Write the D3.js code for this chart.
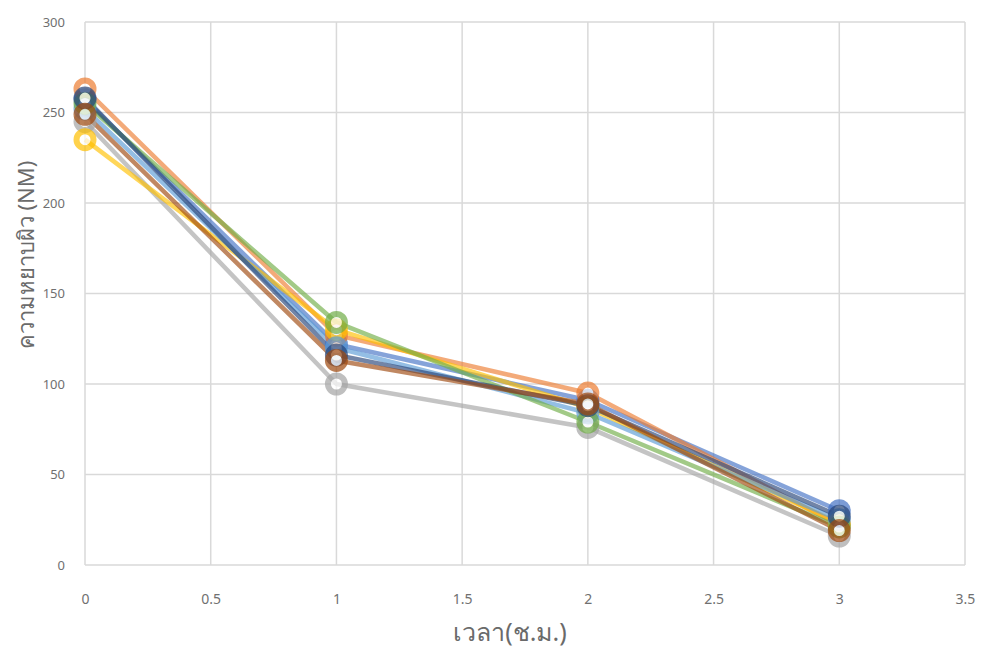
<!DOCTYPE html>
<html>
<head>
<meta charset="utf-8">
<script src="https://cdn.jsdelivr.net/npm/d3@7"></script>
<style>
  html, body { margin: 0; padding: 0; background: #fff; }
  svg { display: block; font-family: "Noto Sans", "DejaVu Sans", sans-serif; }
</style>
</head>
<body>
<svg id="chart" width="981" height="652"></svg>
<script>
// Time in hours
const hours = [0, 1, 2, 3];

// Surface roughness (nm) for each sample
const s1 = [257, 122, 91, 30];
const s2 = [263, 127, 95, 22];
const s3 = [245, 100, 76, 16];
const s4 = [235, 130, 87, 23];
const s5 = [252, 120, 84, 25];
const s6 = [255, 134, 79, 21];
const s7 = [258, 116, 88, 27];
const s8 = [249, 113, 89, 19];
const seriesValues = [s1, s2, s3, s4, s5, s6, s7, s8];

const colors = ["#4472C4", "#ED7D31", "#A5A5A5", "#FFC000", "#5B9BD5", "#70AD47", "#264478", "#9E480E"];

const xTicks = [0, 0.5, 1, 1.5, 2, 2.5, 3, 3.5];
const yTicks = [0, 50, 100, 150, 200, 250, 300];

const margin = { left: 85, right: 16, top: 22, bottom: 87 };
const W = 981, H = 652;
const svg = d3.select("#chart");

const x = d3.scaleLinear().domain([0, 3.5]).range([margin.left, W - margin.right]);
const y = d3.scaleLinear().domain([0, 300]).range([H - margin.bottom, margin.top]);

// Gridlines
svg.append("g").selectAll("line").data(yTicks).join("line")
  .attr("x1", x(0)).attr("x2", x(3.5))
  .attr("y1", d => y(d)).attr("y2", d => y(d))
  .attr("stroke", "#d9d9d9").attr("stroke-width", 1.5);
svg.append("g").selectAll("line").data(xTicks).join("line")
  .attr("x1", d => x(d)).attr("x2", d => x(d))
  .attr("y1", y(0)).attr("y2", y(300))
  .attr("stroke", "#d9d9d9").attr("stroke-width", 1.5);

// Axes (labels only)
const xAxis = d3.axisBottom(x).tickValues(xTicks).tickSize(0).tickPadding(29)
  .tickFormat(d => String(d));
svg.append("g").attr("transform", `translate(0,${y(0)})`).call(xAxis)
  .call(g => g.select(".domain").remove())
  .selectAll("text").attr("fill", "#707070").style("font-size", "14px")
  .style("font-family", "'Noto Sans', sans-serif");

const yAxis = d3.axisLeft(y).tickValues(yTicks).tickSize(0).tickPadding(20);
svg.append("g").attr("transform", `translate(${x(0)},0)`).call(yAxis)
  .call(g => g.select(".domain").remove())
  .selectAll("text").attr("fill", "#707070").style("font-size", "13px")
  .style("font-family", "'Noto Sans', sans-serif");

// Lines and markers
const line = d3.line().x((d, i) => x(hours[i])).y(d => y(d));

seriesValues.forEach((vals, k) => {
  const g = svg.append("g").attr("opacity", 0.65);
  g.append("path").datum(vals)
    .attr("d", line)
    .attr("fill", "none")
    .attr("stroke", colors[k])
    .attr("stroke-width", 4.5)
    .attr("stroke-linejoin", "round");
});
seriesValues.forEach((vals, k) => {
  const g = svg.append("g").attr("opacity", 0.7);
  g.selectAll("circle").data(vals).join("circle")
    .attr("cx", (d, i) => x(hours[i]))
    .attr("cy", d => y(d))
    .attr("r", 8.5)
    .attr("fill", "#fff")
    .attr("stroke", colors[k])
    .attr("stroke-width", 6);
});

// Axis titles
svg.append("text")
  .attr("x", 510)
  .attr("y", 641)
  .attr("text-anchor", "middle")
  .attr("fill", "#6a6a6a")
  .style("font-size", "25px")
  .text("เวลา(ช.ม.)");

svg.append("text")
  .attr("transform", `translate(34,255) rotate(-90)`)
  .attr("text-anchor", "middle")
  .attr("fill", "#6a6a6a")
  .style("font-size", "22px")
  .text("ความหยาบผิว (NM)");
</script>
</body>
</html>
